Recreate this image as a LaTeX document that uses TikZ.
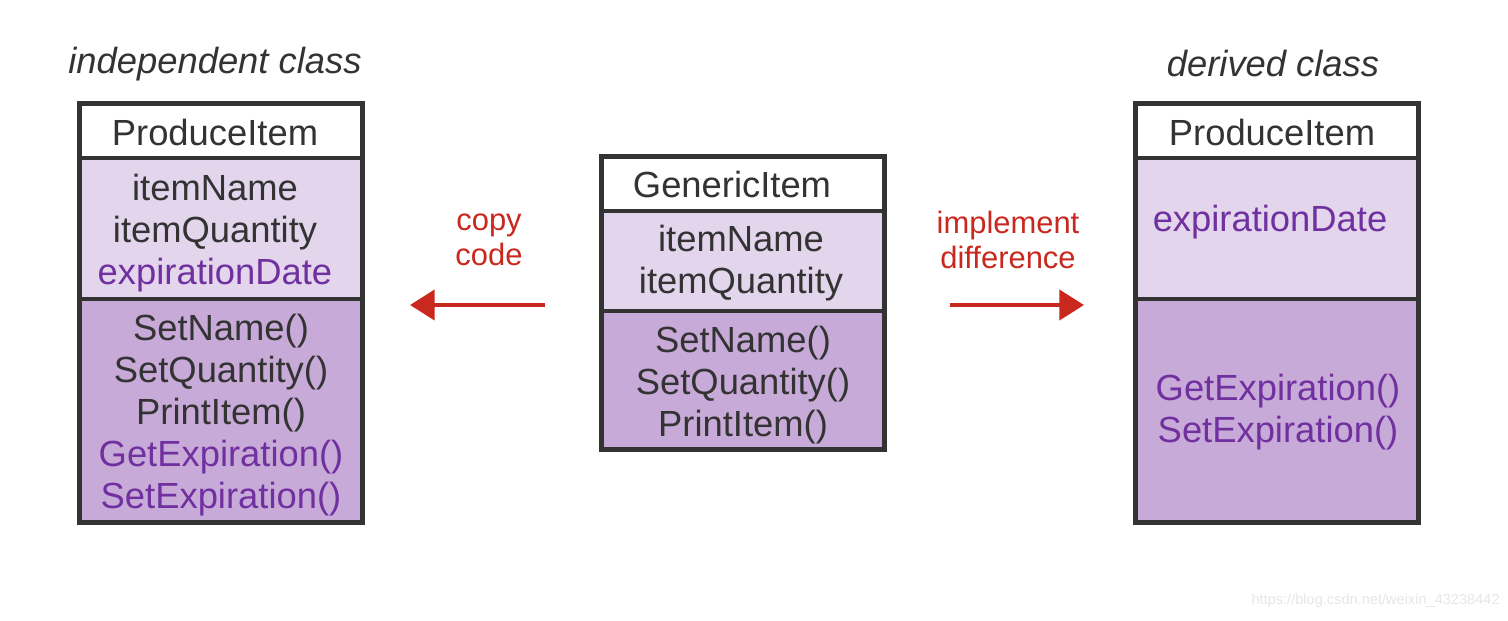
\documentclass[tikz,border=0pt]{standalone}
\usepackage{fontspec}
\setmainfont{Liberation Sans}
\usetikzlibrary{arrows.meta}
\definecolor{txt}{HTML}{333333}
\definecolor{pur}{HTML}{7030A0}
\definecolor{redc}{HTML}{C8281E}
\definecolor{light}{HTML}{E2D5EC}
\definecolor{dark}{HTML}{C8AAD8}
\definecolor{wm}{HTML}{E6E6E6}
\tikzset{
  comp/.style={draw=txt, line width=2.8pt, minimum width=5.66cm, inner sep=0pt, outer sep=0pt, anchor=north west},
  hdr/.style={comp, fill=white},
  attr/.style={comp, fill=light},
  meth/.style={comp, fill=dark},
  body/.style={text=txt, align=center, font=\fontsize{20.7}{23.8}\selectfont, inner sep=0pt},
  lbl/.style={text=redc, align=center, font=\fontsize{17.6}{19.8}\selectfont, inner sep=0pt},
  ttl/.style={text=txt, font=\fontsize{20.7}{24}\selectfont\itshape, inner sep=0pt},
  arr/.style={draw=redc, line width=2.5pt, -{Triangle[length=14pt,width=17pt]}}
}
\begin{document}
\begin{tikzpicture}[x=0.02cm, y=-0.02cm]
\useasboundingbox (0,0) rectangle (1508,620);
% left class
\node[hdr, minimum height=1.09cm] (lh) at (79.5,103.5) {};
\node[attr, minimum height=2.82cm] (la) at (79.5,158) {};
\node[meth, minimum height=4.47cm] (lm) at (79.5,299) {};
% middle class
\node[hdr, minimum height=1.09cm] (mh) at (601.5,156.5) {};
\node[attr, minimum height=2.0cm] (ma) at (601.5,211) {};
\node[meth, minimum height=2.77cm] (mm) at (601.5,311) {};
% right class
\node[hdr, minimum height=1.09cm] (rh) at (1135.5,103.5) {};
\node[attr, minimum height=2.82cm] (ra) at (1135.5,158) {};
\node[meth, minimum height=4.47cm] (rm) at (1135.5,299) {};
% titles
\node[ttl] (t1) at (215,64) {independent class};
\node[ttl] (t2) at (1273,64) {derived class};
% left texts
\node[body] (lht) at (215,132) {ProduceItem};
\node[body] (lat) at (215,233) {itemName\\itemQuantity\\\textcolor{pur}{expirationDate}};
\node[body] (lmt) at (221,415) {SetName()\\SetQuantity()\\PrintItem()\\\textcolor{pur}{GetExpiration()}\\\textcolor{pur}{SetExpiration()}};
% middle texts
\node[body] (mht) at (732,184) {GenericItem};
\node[body] (mat) at (741,263) {itemName\\itemQuantity};
\node[body] (mmt) at (743,385) {SetName()\\SetQuantity()\\PrintItem()};
% right texts
\node[body] (rht) at (1272,132) {ProduceItem};
\node[body, text=pur] (rat) at (1270,222) {expirationDate};
\node[body, text=pur] (rmt) at (1278,412) {GetExpiration()\\SetExpiration()};
% arrows
\coordinate (a1s) at (545,305);
\coordinate (a1e) at (410,305);
\coordinate (a2s) at (950,305);
\coordinate (a2e) at (1084,305);
\draw[arr] (a1s) -- (a1e);
\draw[arr] (a2s) -- (a2e);
\node[lbl] (l1) at (489,240) {copy\\code};
\node[lbl] (l2) at (1008,240) {implement\\difference};
% watermark
\node[text=wm, font=\fontsize{8.3}{10}\selectfont, inner sep=0pt, anchor=east] (wmk) at (1500,601) {https://blog.csdn.net/weixin\_43238442};
\end{tikzpicture}
\end{document}
